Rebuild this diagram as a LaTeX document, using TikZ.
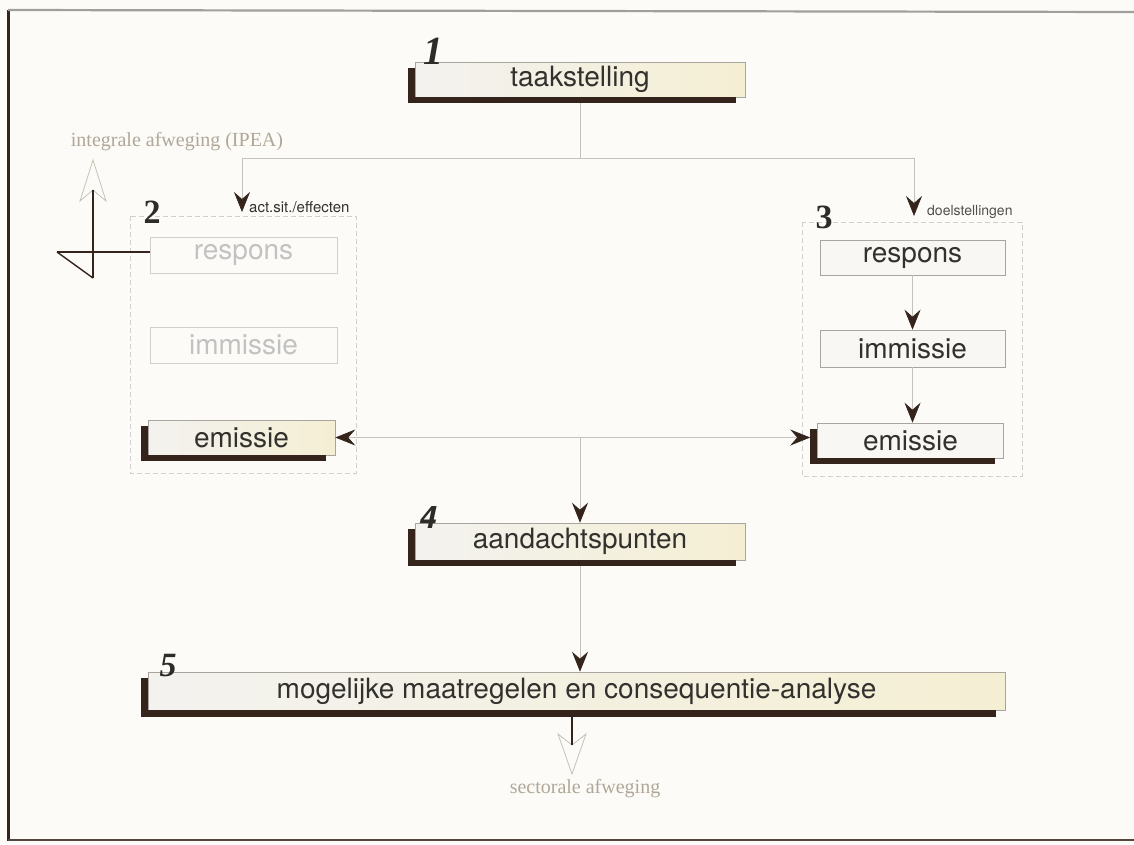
\documentclass[tikz,border=0pt]{standalone}
\usepackage{fontspec}
\setmainfont{Liberation Serif}
\newfontfamily\boxfont{TeX Gyre Heros}
\usetikzlibrary{arrows.meta}
\definecolor{paper}{HTML}{FCFBF7}
\definecolor{umber}{HTML}{35241C}
\definecolor{wire}{HTML}{C4C2BD}
\definecolor{edge}{HTML}{A8A59F}
\definecolor{faint}{HTML}{CFCFCF}
\definecolor{fainttext}{HTML}{C2C2C2}
\definecolor{taupe}{HTML}{B0A798}
\definecolor{boxl}{HTML}{F3F2EF}
\definecolor{boxr}{HTML}{F4EFD3}
\definecolor{boxplain}{HTML}{F8F7F3}
\definecolor{ink}{HTML}{33312E}
\tikzset{
  x=1pt, y=-1pt,
  stepbox/.style={draw=edge, line width=0.6pt, left color=boxl, right color=boxr,
    font=\boxfont\fontsize{28}{30}\selectfont, text=ink, inner sep=0pt},
  plainbox/.style={stepbox, left color=boxplain, right color=boxplain},
  fadedbox/.style={draw=faint, line width=0.6pt, fill=paper,
    font=\boxfont\fontsize{28}{30}\selectfont, text=fainttext, inner sep=0pt},
  shade/.style={fill=umber},
  panel/.style={draw=faint, line width=0.6pt, dash pattern=on 5pt off 3pt},
  conn/.style={draw=wire, line width=0.7pt},
  head/.tip={Stealth[length=20pt,width=16pt,inset=7pt,color=umber]},
  tip/.style={-head},
  bothtips/.style={head-head},
  numserif/.style={font=\fontsize{34}{36}\selectfont\bfseries, text=ink!90!black, inner sep=0pt},
  smalllabel/.style={font=\boxfont\fontsize{15}{17}\selectfont, text=ink, inner sep=0pt, anchor=west},
  weigh/.style={font=\fontsize{20}{22}\selectfont, text=taupe, inner sep=0pt},
  hollow/.style={draw=taupe!70, line width=0.8pt, fill=paper},
}
% drop shadow: bar on the left and bar underneath
\newcommand{\boxshadow}[2][6]{%
  \fill[shade] ([xshift=-7pt,yshift=-6pt]#2.north west) rectangle ([yshift=-#1pt]#2.south west);
  \fill[shade] (#2.south west) rectangle ([xshift=-9pt,yshift=-#1pt]#2.south east);
}
\begin{document}
\begin{tikzpicture}
\useasboundingbox (0,0) rectangle (1134,844);
\fill[paper] (0,0) rectangle (1134,844);

% sheet edges
\fill[umber] (7,10) rectangle (10,841);
\draw[gray!75, line width=2.2pt] (8,10) -- (1134,12);
\draw[umber!85, line width=2pt] (8,840) -- (1134,840);

% dashed panels
\draw[panel] (130,216) rectangle (356,473);
\draw[panel] (802,222) rectangle (1022,476);

% boxes
\node[stepbox, minimum width=330pt, minimum height=35pt] (b1) at (580,79.5) {taakstelling};
\node[fadedbox, minimum width=187pt, minimum height=36pt] (r2) at (243.5,255) {respons};
\node[fadedbox, minimum width=187pt, minimum height=36pt] (i2) at (243.5,345) {immissie};
\node[stepbox, minimum width=187pt, minimum height=35pt] (e2) at (241.5,437.5) {emissie};
\node[plainbox, minimum width=185pt, minimum height=35pt] (r3) at (912.5,257.5) {respons};
\node[plainbox, minimum width=185pt, minimum height=37pt] (i3) at (912.5,348.5) {immissie};
\node[plainbox, minimum width=186pt, minimum height=35pt] (e3) at (910.5,440.5) {emissie};
\node[stepbox, minimum width=330pt, minimum height=37pt] (b4) at (580,541.5) {aandachtspunten};
\node[stepbox, minimum width=857pt, minimum height=38pt] (b5) at (576.5,691) {mogelijke maatregelen en consequentie-analyse};

\boxshadow{b1}
\boxshadow{e2}
\boxshadow{e3}
\boxshadow{b4}
\boxshadow[7]{b5}

% numbers
\node[numserif, font=\fontsize{40}{42}\selectfont\bfseries\itshape] (n1) at (433,51) {1};
\node[numserif] (n2) at (152,212) {2};
\node[numserif] (n3) at (824,217) {3};
\node[numserif, font=\boxfont\fontsize{31}{33}\selectfont\bfseries\itshape] (n4) at (428,517) {4};
\node[numserif, font=\fontsize{34}{36}\selectfont\bfseries\itshape] (n5) at (168,666) {5};

% labels
\node[smalllabel] (lact) at (249,207) {act.sit./effecten};
\node[smalllabel, font=\boxfont\fontsize{14}{16}\selectfont, text=ink!85] (ldoel) at (927,212) {doelstellingen};
\node[weigh] (lipea) at (177,142) {integrale afweging (IPEA)};
\node[weigh] (lsect) at (585,789) {sectorale afweging};

% connectors from task definition to both panels
\coordinate (split1) at (580,158);
\coordinate (tipL) at (242,212);
\coordinate (tipR) at (914,216);
\draw[conn] ([yshift=-6pt]b1.south) -- (split1);
\draw[conn, tip] (split1) -| (tipL);
\draw[conn, tip] (split1) -| (tipR);

% chain inside panel 3
\draw[conn, tip] (r3.south) -- (i3.north);
\draw[conn, tip] (i3.south) -- (i3.south |- e3.north);

% emission link between the panels, and on to points of attention
\coordinate (eL) at (e2.east);
\coordinate (eR) at ([xshift=-7pt]e3.west |- e2.east);
\coordinate (split2) at (580,437.5);
\draw[conn, bothtips] (eL) -- (eR);
\draw[conn, tip] (split2) -- (b4.north);
\draw[conn, tip] ([yshift=-6pt]b4.south) -- (b4.south |- b5.north);

% outlet towards the integral weighing (IPEA)
\coordinate (upTip) at (93,160);
\coordinate (upBase) at (93,190);
\coordinate (flagFoot) at (93,278);
\coordinate (flagEnd) at (57,252);
\draw[hollow] (upTip) -- (80,201) -- (upBase) -- (106,201) -- cycle;
\draw[umber, line width=1.4pt] (upBase) -- (flagFoot);
\draw[umber, line width=1.4pt] (flagEnd) -- (r2.west |- flagEnd);
\draw[umber, line width=1.4pt] (flagEnd) -- (flagFoot);

% outlet towards the sectoral weighing
\coordinate (stemTop) at ([yshift=-7pt]b5.south -| 572,0);
\coordinate (stemEnd) at (572,745);
\coordinate (downTip) at (572,774);
\draw[hollow] (downTip) -- (558,734) -- (stemEnd) -- (586,734) -- cycle;
\draw[umber, line width=2pt] (stemTop) -- (stemEnd);
\end{tikzpicture}
\end{document}
